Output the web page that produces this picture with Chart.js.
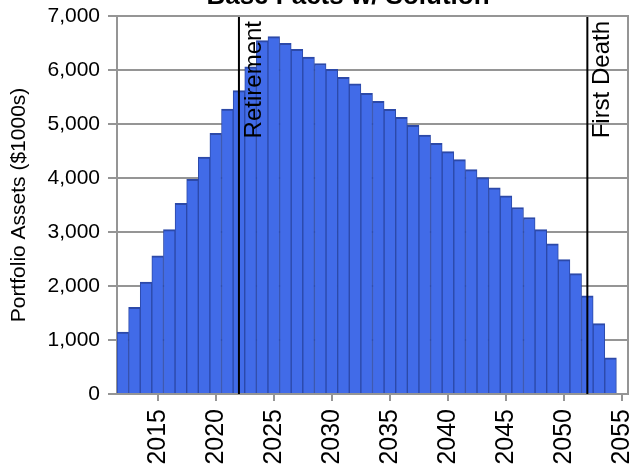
<!DOCTYPE html>
<html>
<head>
<meta charset="utf-8">
<title>Base Facts w/ Solution</title>
<script src="https://cdn.jsdelivr.net/npm/chart.js@4/dist/chart.umd.min.js"></script>
<style>
  html, body { margin: 0; padding: 0; background: #ffffff; }
  canvas { display: block; }
</style>
</head>
<body>
<canvas id="chart" width="631" height="471"></canvas>
<script>
// Projection years (one bar per year)
const years = [
  '2012','2013','2014','2015','2016','2017','2018','2019','2020','2021',
  '2022','2023','2024','2025','2026','2027','2028','2029','2030','2031',
  '2032','2033','2034','2035','2036','2037','2038','2039','2040','2041',
  '2042','2043','2044','2045','2046','2047','2048','2049','2050','2051',
  '2052','2053','2054','2055'
];

// Portfolio assets at the start of each year, in $1000s
const assets = [
  1148, 1606, 2074, 2561, 3043, 3531, 3976, 4389, 4828, 5278,
  5617, 6061, 6543, 6617, 6494, 6383, 6237, 6120, 6013, 5865,
  5746, 5569, 5420, 5272, 5124, 4976, 4796, 4643, 4487, 4339,
  4154, 4006, 3820, 3672, 3454, 3269, 3043, 2783, 2487, 2228,
  1820, 1302, 672, 0
];

// Years that get a labelled tick on the horizontal axis
const tickYears = ['2015','2020','2025','2030','2035','2040','2045','2050','2055'];

// Life events marked with vertical lines
const eventYears = ['2022', '2052'];
const eventNames = ['Retirement', 'First Death'];

const FONT = "'Liberation Sans', Arial, Helvetica, sans-serif";
const AXIS_GRAY = '#959595';

Chart.defaults.font.family = FONT;
Chart.defaults.color = '#000000';

// White page behind the chart
const background = {
  id: 'background',
  beforeDraw(chart) {
    const { ctx } = chart;
    ctx.save();
    ctx.fillStyle = '#ffffff';
    ctx.fillRect(0, 0, chart.width, chart.height);
    ctx.restore();
  }
};

// Vertical event markers with rotated captions
const eventMarkers = {
  id: 'eventMarkers',
  afterDatasetsDraw(chart) {
    const { ctx, chartArea, scales } = chart;
    ctx.save();
    eventYears.forEach((yr, i) => {
      const x = scales.x.getPixelForValue(years.indexOf(yr));
      ctx.strokeStyle = '#000000';
      ctx.lineWidth = 2;
      ctx.beginPath();
      ctx.moveTo(x, chartArea.top);
      ctx.lineTo(x, chartArea.bottom);
      ctx.stroke();

      ctx.save();
      ctx.translate(x + 22, chartArea.top + 5);
      ctx.rotate(-Math.PI / 2);
      ctx.font = '24px ' + FONT;
      ctx.fillStyle = '#000000';
      ctx.textAlign = 'right';
      ctx.textBaseline = 'alphabetic';
      ctx.fillText(eventNames[i], 0, 0);
      ctx.restore();
    });
    ctx.restore();
  }
};

// Plot frame (top and right edges) and the chart heading
const frameAndHeading = {
  id: 'frameAndHeading',
  afterDraw(chart) {
    const { ctx, chartArea } = chart;
    ctx.save();
    ctx.strokeStyle = AXIS_GRAY;
    ctx.lineWidth = 2;
    ctx.beginPath();
    ctx.moveTo(chartArea.left, chartArea.top);
    ctx.lineTo(chartArea.right, chartArea.top);
    ctx.lineTo(chartArea.right, chartArea.bottom);
    ctx.stroke();

    ctx.font = 'bold 26px ' + FONT;
    ctx.fillStyle = '#000000';
    ctx.textAlign = 'center';
    ctx.textBaseline = 'alphabetic';
    ctx.fillText('Base Facts w/ Solution', 348, 3.5);
    ctx.restore();
  }
};

new Chart(document.getElementById('chart'), {
  type: 'bar',
  data: {
    labels: years,
    datasets: [{
      label: 'Portfolio Assets',
      data: assets,
      backgroundColor: '#416be8',
      borderColor: '#2c49a8',
      borderWidth: { top: 2, left: 1, right: 1, bottom: 0 },
      borderSkipped: 'bottom',
      categoryPercentage: 1.0,
      barPercentage: 1.0
    }]
  },
  options: {
    responsive: false,
    animation: false,
    events: [],
    layout: { padding: { top: 16, right: 3, left: 0, bottom: 0 } },
    plugins: {
      legend: { display: false },
      tooltip: { enabled: false },
      title: { display: false }
    },
    scales: {
      x: {
        type: 'category',
        offset: true,
        grid: {
          offset: false,
          drawOnChartArea: false,
          drawTicks: true,
          tickLength: 7,
          lineWidth: 2,
          color: (c) => (c.tick && c.tick.label ? AXIS_GRAY : 'rgba(0,0,0,0)')
        },
        border: { display: true, color: AXIS_GRAY, width: 2 },
        ticks: {
          autoSkip: false,
          minRotation: 90,
          maxRotation: 90,
          padding: 8,
          color: '#000000',
          font: { size: 25, family: FONT },
          callback: function (value) {
            const lbl = this.getLabelForValue(value);
            return tickYears.includes(lbl) ? lbl : '';
          }
        },
        afterFit(scale) {
          scale.height = 77;
          scale.paddingLeft = 0;
          scale.paddingRight = 0;
        }
      },
      y: {
        min: 0,
        max: 7000,
        grid: {
          color: AXIS_GRAY,
          lineWidth: 2,
          drawTicks: true,
          tickLength: 9
        },
        border: { display: true, color: AXIS_GRAY, width: 2 },
        ticks: {
          stepSize: 1000,
          padding: 8,
          color: '#000000',
          font: { size: 21, family: FONT },
          callback: (v) => Number(v).toLocaleString('en-US')
        },
        title: {
          display: true,
          text: 'Portfolio Assets ($1000s)',
          color: '#000000',
          font: { size: 21, family: FONT },
          padding: { top: 7, bottom: 0 }
        },
        afterFit(scale) {
          scale.width = 117;
          scale.paddingTop = 0;
          scale.paddingBottom = 0;
        }
      }
    }
  },
  plugins: [background, eventMarkers, frameAndHeading]
});
</script>
</body>
</html>
